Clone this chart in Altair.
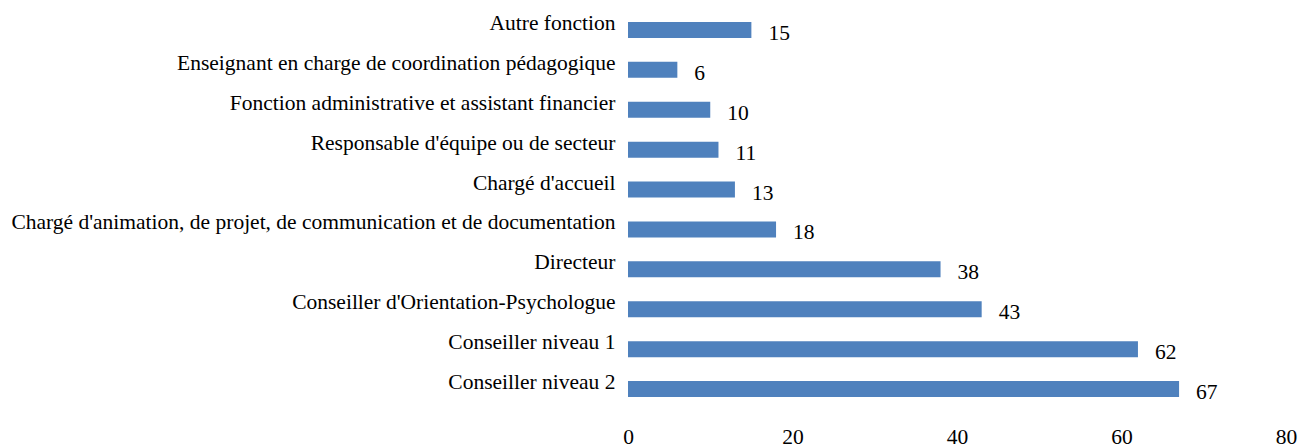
import altair as alt
import pandas as pd

categories = [
    "Autre fonction",
    "Enseignant en charge de coordination pédagogique",
    "Fonction administrative et assistant financier",
    "Responsable d'équipe ou de secteur",
    "Chargé d'accueil",
    "Chargé d'animation, de projet, de communication et de documentation",
    "Directeur",
    "Conseiller d'Orientation-Psychologue",
    "Conseiller niveau 1",
    "Conseiller niveau 2",
]
values = [15, 6, 10, 11, 13, 18, 38, 43, 62, 67]
x_ticks = [0, 20, 40, 60, 80]

df = pd.DataFrame({"fonction": categories, "n": values})

FONT = "Liberation Serif"
FS = 21.5

y_enc = alt.Y(
    "fonction:N",
    sort=categories,
    title=None,
    scale=alt.Scale(paddingInner=0.6, paddingOuter=0.3),
    axis=alt.Axis(
        ticks=False,
        tickSize=0,
        domain=False,
        grid=False,
        labelFont=FONT,
        labelFontSize=FS,
        labelColor="#000000",
        labelPadding=13,
        labelBaseline="alphabetic",
        labelLimit=1000,
    ),
)
x_enc = alt.X(
    "n:Q",
    title=None,
    scale=alt.Scale(domain=[0, 80], nice=False),
    axis=alt.Axis(
        values=x_ticks,
        ticks=False,
        tickSize=0,
        domain=False,
        grid=False,
        labelFont=FONT,
        labelFontSize=FS,
        labelColor="#000000",
        labelPadding=34,
        labelBaseline="alphabetic",
        labelFlush=False,
    ),
)

bars = alt.Chart(df).mark_bar(color="#4f81bd").encode(x=x_enc, y=y_enc)
labels = alt.Chart(df).mark_text(
    align="left", baseline="alphabetic", dx=17, dy=10,
    font=FONT, fontSize=FS, color="#000000",
).encode(x=alt.X("n:Q"), y=alt.Y("fonction:N", sort=categories), text="n:Q")

chart = (
    alt.layer(bars, labels)
    .properties(
        width=658,
        height=399,
        autosize=alt.AutoSizeParams(type="none"),
        padding={"left": 620, "top": 2, "right": 14, "bottom": 39},
        background="white",
    )
    .configure_view(stroke="transparent", strokeWidth=0)
)

chart.save("out.html", embed_options={"renderer": "svg", "actions": False})
